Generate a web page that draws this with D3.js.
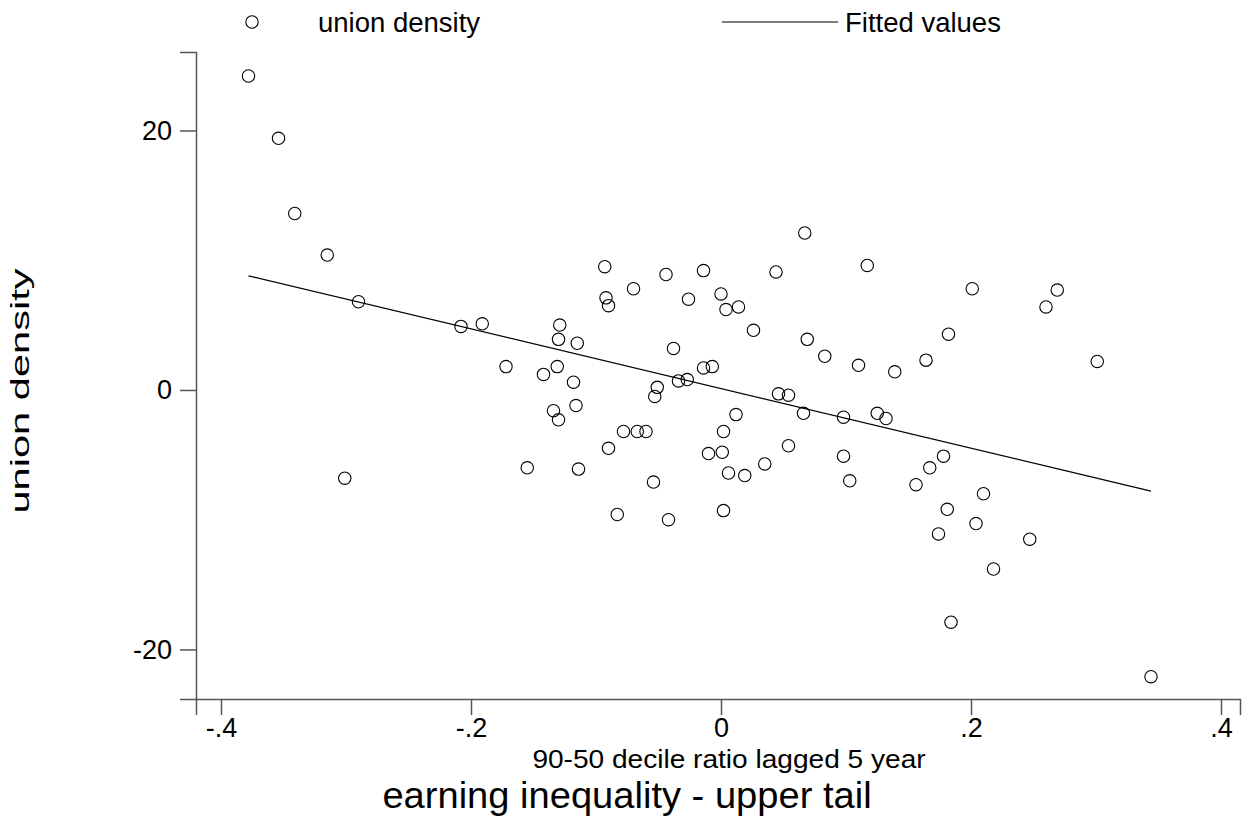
<!DOCTYPE html>
<html><head><meta charset="utf-8">
<script src="https://cdn.jsdelivr.net/npm/d3@7"></script>
<style>body{margin:0;background:#fff;} text{font-family:"Liberation Sans",Arial,sans-serif;}</style>
</head><body>
<svg id="c" width="1254" height="816"></svg>
<script>
const xVals = [-0.378,-0.354,-0.341,-0.315,-0.290,-0.301,-0.208,-0.191,-0.172,-0.142,-0.134,-0.130,-0.131,-0.129,-0.130,-0.115,-0.118,-0.116,-0.114,-0.155,
-0.093,-0.092,-0.090,-0.070,-0.044,-0.014,0.000,0.004,-0.026,-0.038,-0.014,-0.007,-0.034,-0.027,-0.051,-0.053,-0.078,-0.067,-0.060,-0.090,
0.002,-0.010,0.001,0.006,-0.054,-0.083,-0.042,0.002,0.067,0.044,0.117,0.201,0.014,0.026,0.069,0.083,0.110,0.139,0.164,0.182,
0.046,0.054,0.066,0.098,0.125,0.132,0.012,0.054,0.035,0.098,0.178,0.167,0.019,0.103,0.156,0.210,0.181,0.204,0.174,0.218,
0.184,0.269,0.260,0.301,0.344,0.247];
const yVals = [24.2,19.4,13.6,10.4,6.8,-6.8,4.9,5.1,1.8,1.2,-1.6,-2.3,1.8,5.0,3.9,3.6,0.6,-1.2,-6.1,-6.0,
9.5,7.1,6.5,7.8,8.9,9.2,7.4,6.2,7.0,3.2,1.7,1.8,0.7,0.8,0.2,-0.5,-3.2,-3.2,-3.2,-4.5,
-3.2,-4.9,-4.8,-6.4,-7.1,-9.6,-10.0,-9.3,12.1,9.1,9.6,7.8,6.4,4.6,3.9,2.6,1.9,1.4,2.3,4.3,
-0.3,-0.4,-1.8,-2.1,-1.8,-2.2,-1.9,-4.3,-5.7,-5.1,-5.1,-6.0,-6.6,-7.0,-7.3,-8.0,-9.2,-10.3,-11.1,-13.8,
-17.9,7.7,6.4,2.2,-22.1,-11.5];
const fitX = [-0.378, 0.344];
const fitY = [8.8, -7.8];
const xTicks = [-0.4,-0.2,0,0.2,0.4];
const xTickLabels = ["-.4","-.2","0",".2",".4"];
const yTicks = [-20,0,20];
const yTickLabels = ["-20","0","20"];

const svg = d3.select("#c");
const x = d3.scaleLinear().domain([-0.42, 0.4152]).range([196, 1240]);
const y = d3.scaleLinear().domain([-23.82, 26.05]).range([699, 52]);

const axisColor = "#555";
const gx = svg.append("g").attr("transform","translate(0,699)")
  .call(d3.axisBottom(x).tickValues(xTicks).tickFormat((d,i)=>xTickLabels[i]).tickSizeOuter(0).tickSize(16).tickPadding(3));
const gy = svg.append("g").attr("transform","translate(196,0)")
  .call(d3.axisLeft(y).tickValues(yTicks).tickFormat((d,i)=>yTickLabels[i]).tickSizeOuter(0).tickSize(16).tickPadding(8));
[gx,gy].forEach(g=>{
  g.select(".domain").attr("stroke",axisColor).attr("stroke-width",1.5);
  g.selectAll(".tick line").attr("stroke",axisColor).attr("stroke-width",1.5);
  g.selectAll(".tick text").attr("fill","#000").style("font-size","27px").style("font-family","'Liberation Sans',Arial,sans-serif");
});

// points
svg.append("g").selectAll("circle").data(xVals.map((v,i)=>[v,yVals[i]])).join("circle")
  .attr("cx",d=>x(d[0])).attr("cy",d=>y(d[1])).attr("r",6.2)
  .attr("fill","none").attr("stroke","#000").attr("stroke-width",1.1);

// fitted line
svg.append("path").datum(fitX.map((v,i)=>[v,fitY[i]]))
  .attr("d",d3.line().x(d=>x(d[0])).y(d=>y(d[1])))
  .attr("stroke","#000").attr("stroke-width",1.2).attr("fill","none");

// titles
svg.append("text").attr("transform","translate(729,768) scale(1.08,1)").attr("text-anchor","middle").style("font-size","26px").text("90-50 decile ratio lagged 5 year");
svg.append("text").attr("transform","translate(627,808) scale(1.03,1)").attr("text-anchor","middle").style("font-size","37px").text("earning inequality - upper tail");
svg.append("text").attr("transform","translate(29,391) rotate(-90) scale(1.6,1)").attr("text-anchor","middle").style("font-size","26px").text("union density");

// legend
const lg = svg.append("g");
lg.append("circle").attr("cx",252).attr("cy",22).attr("r",6.2).attr("fill","none").attr("stroke","#000").attr("stroke-width",1.1);
lg.append("text").attr("x",318).attr("y",32).style("font-size","27.5px").text("union density");
lg.append("line").attr("x1",722).attr("x2",838).attr("y1",22).attr("y2",22).attr("stroke","#000").attr("stroke-width",1.2);
lg.append("text").attr("x",845).attr("y",32).style("font-size","27.5px").text("Fitted values");
</script>
</body></html>
